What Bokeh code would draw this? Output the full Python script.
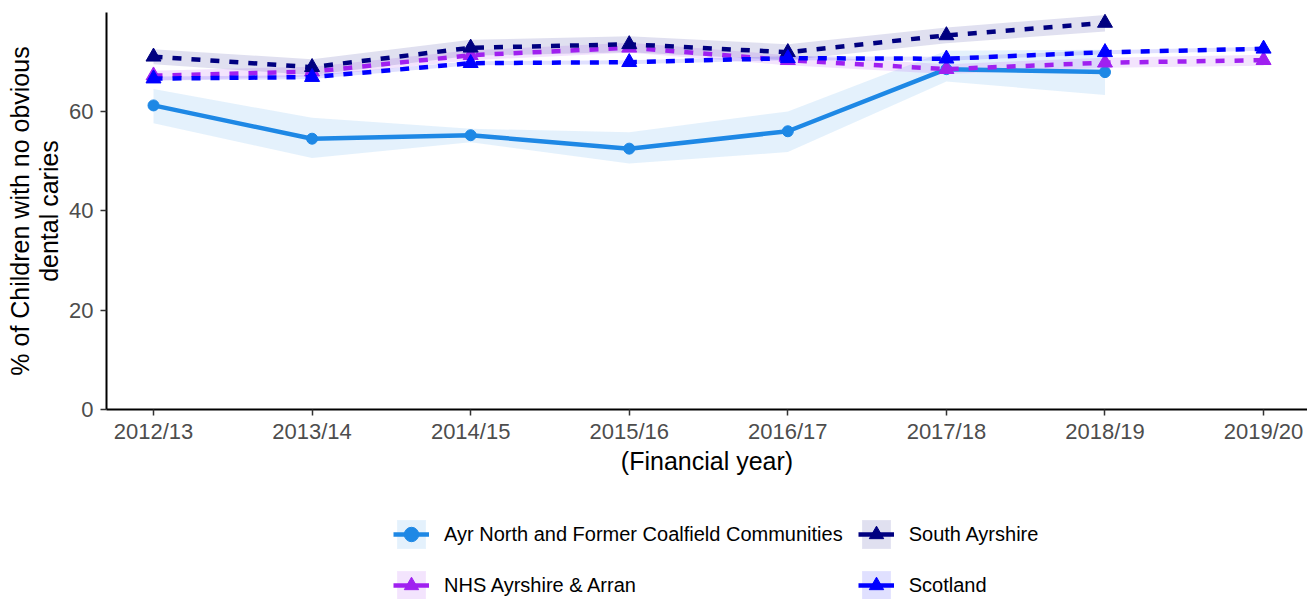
from bokeh.plotting import figure
from bokeh.layouts import column
from bokeh.models import ColumnDataSource, FixedTicker, Legend, LegendItem, Range1d
from bokeh.embed import file_html
from bokeh.resources import INLINE

# ---- data ----
years = ["2012/13", "2013/14", "2014/15", "2015/16", "2016/17", "2017/18", "2018/19", "2019/20"]

ayr_name = "Ayr North and Former Coalfield Communities"
ayr = [61.2, 54.5, 55.2, 52.5, 56.0, 68.5, 67.9]
ayr_lo = [57.6, 50.6, 53.8, 49.5, 51.8, 66.0, 63.3]
ayr_hi = [64.5, 58.7, 56.5, 55.8, 60.0, 72.2, 72.4]

nhs_name = "NHS Ayrshire & Arran"
nhs = [67.2, 68.0, 71.3, 72.8, 70.3, 68.5, 69.8, 70.3]
nhs_lo = [66.2, 67.0, 70.3, 71.8, 69.3, 67.5, 68.8, 69.2]
nhs_hi = [68.2, 69.0, 72.3, 73.8, 71.3, 69.5, 70.8, 71.4]

sa_name = "South Ayrshire"
sa = [71.0, 68.9, 72.8, 73.5, 71.9, 75.3, 77.8]
sa_lo = [69.5, 67.3, 71.2, 71.9, 70.3, 73.7, 76.1]
sa_hi = [72.5, 70.5, 74.4, 75.1, 73.5, 76.9, 79.4]

scot_name = "Scotland"
scot = [66.6, 66.9, 69.7, 69.9, 70.7, 70.6, 71.9, 72.6]
scot_lo = [66.2, 66.5, 69.3, 69.5, 70.3, 70.2, 71.5, 72.2]
scot_hi = [67.0, 67.3, 70.1, 70.3, 71.1, 71.0, 72.3, 73.0]

FONT = "Liberation Sans"

series = [
    (ayr_name, ayr, ayr_lo, ayr_hi, "#1E88E5", "circle", "solid", 11),
    (nhs_name, nhs, nhs_lo, nhs_hi, "#A020F0", "triangle", "9 10", 15),
    (sa_name, sa, sa_lo, sa_hi, "#000080", "triangle", "9 10", 15),
    (scot_name, scot, scot_lo, scot_hi, "#0000FF", "triangle", "9 10", 15),
]

# ---- main chart ----
p = figure(width=1307, height=490, output_backend="svg", toolbar_location=None,
           x_range=Range1d(-0.2964, 7.277), y_range=Range1d(0, 79.9),
           min_border_left=106, min_border_right=0, min_border_top=12,
           min_border_bottom=81)
p.outline_line_color = None
p.xgrid.visible = False
p.ygrid.visible = False

srcs = {}
for name, v, lo, hi, col, mk, dash, sz in series:
    srcs[name] = ColumnDataSource(dict(x=list(range(len(v))), y=v, lo=lo, hi=hi))
    p.varea(x="x", y1="lo", y2="hi", source=srcs[name], fill_color=col, fill_alpha=0.12)

for name, v, lo, hi, col, mk, dash, sz in series:
    p.line(x="x", y="y", source=srcs[name], line_color=col, line_width=4.5, line_dash=dash)
    p.scatter(x="x", y="y", source=srcs[name], marker=mk, size=sz,
              fill_color=col, line_color=col)

p.xaxis.ticker = FixedTicker(ticks=list(range(len(years))))
p.xaxis.major_label_overrides = {i: y for i, y in enumerate(years)}
p.yaxis.ticker = FixedTicker(ticks=[0, 20, 40, 60])
p.xaxis.axis_label = "(Financial year)"
p.yaxis.axis_label = "% of Children with no obvious\ndental caries"

for ax in (p.xaxis, p.yaxis):
    ax.axis_line_color = "black"
    ax.axis_line_width = 2
    ax.major_tick_line_color = "#333333"
    ax.major_tick_line_width = 1.5
    ax.major_tick_out = 6
    ax.major_tick_in = 0
    ax.minor_tick_line_color = None
    ax.major_label_text_font = FONT
    ax.major_label_text_font_size = "22px"
    ax.major_label_text_color = "#4D4D4D"
    ax.axis_label_text_font = FONT
    ax.axis_label_text_font_size = "25px"
    ax.axis_label_text_font_style = "normal"
    ax.axis_label_text_color = "black"

p.xaxis.major_label_standoff = 3
p.yaxis.major_label_standoff = 7
p.xaxis.axis_label_standoff = 0
p.yaxis.axis_label_standoff = 3
p.yaxis.axis_label_text_line_height = 1.05

# ---- legend strip (same sources, view range placed away from the data) ----
lg = figure(width=1307, height=109, output_backend="svg", toolbar_location=None,
            x_range=Range1d(-1000, -999), y_range=Range1d(-1000, -999),
            x_axis_type=None, y_axis_type=None,
            min_border_left=0, min_border_right=0, min_border_top=0, min_border_bottom=0)
lg.outline_line_color = None
lg.xgrid.visible = False
lg.ygrid.visible = False

items = {}
for name, v, lo, hi, col, mk, dash, sz in series:
    a = lg.varea(x="x", y1="lo", y2="hi", source=srcs[name], fill_color=col, fill_alpha=0.12)
    l = lg.line(x="x", y="y", source=srcs[name], line_color=col, line_width=4.5)
    s = lg.scatter(x="x", y="y", source=srcs[name], marker=mk, size=sz - 2,
                   fill_color=col, line_color=col)
    items[name] = LegendItem(label=name, renderers=[a, l, s])

legend = Legend(items=[items[ayr_name], items[sa_name], items[nhs_name], items[scot_name]],
                location=(287, -4), orientation="horizontal", ncols=2)
legend.glyph_width = 36
legend.glyph_height = 36
legend.label_standoff = 15
legend.spacing = 15
legend.padding = 0
legend.margin = 0
legend.border_line_color = None
legend.background_fill_alpha = 0
legend.label_text_font = FONT
legend.label_text_font_size = "20px"
legend.label_text_color = "black"
lg.add_layout(legend, "center")

open("out.html", "w").write(file_html(column(p, lg), INLINE))
